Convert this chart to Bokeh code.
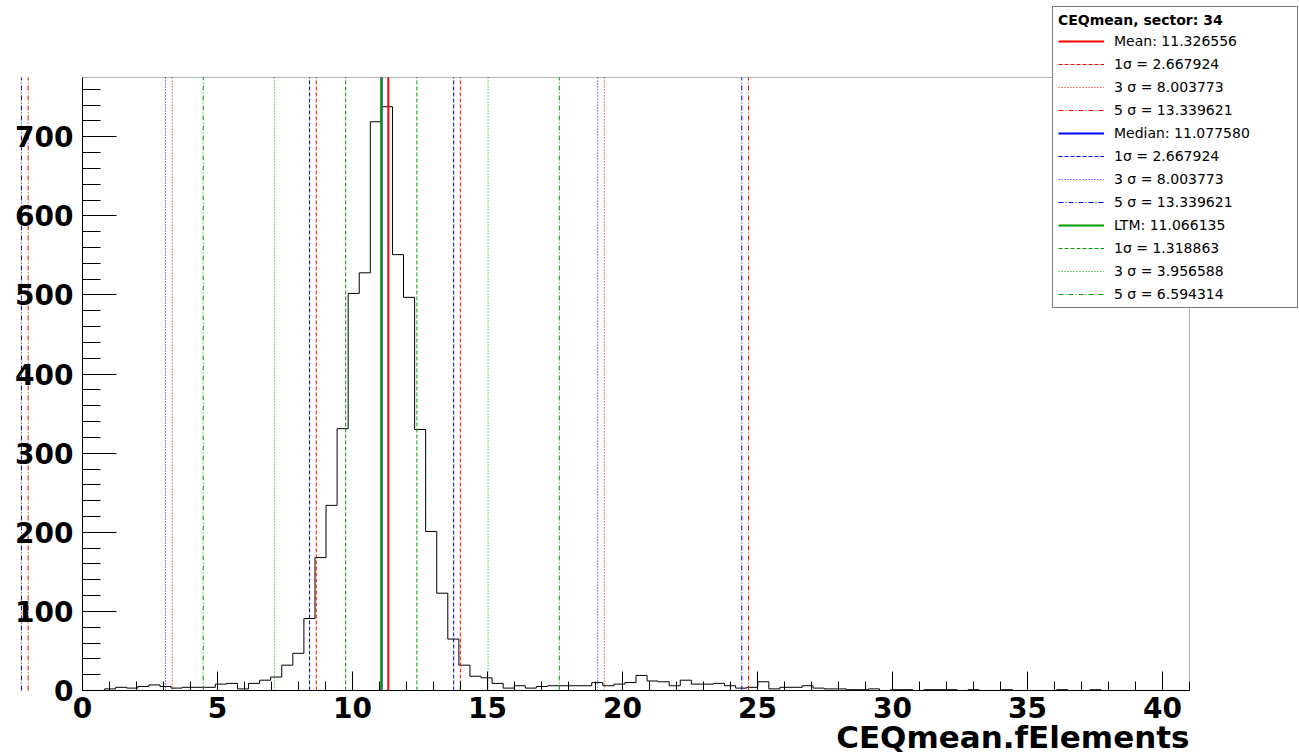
import numpy as np
from bokeh.plotting import figure
from bokeh.models import (Range1d, SingleIntervalTicker, BoxAnnotation, Legend,
                          LegendItem, Label)
from bokeh.embed import file_html
from bokeh.resources import INLINE

# ---------------- data ----------------
NBINS = 100
XMIN, XMAX = 0.0, 41.0
counts = [0, 0, 2, 4, 3, 5, 7, 5, 3, 4,
          4, 4, 8, 9, 2, 9, 13, 17, 32, 47,
          91, 168, 234, 331, 502, 528, 719, 738, 551, 497,
          330, 201, 123, 65, 32, 18, 16, 9, 3, 6,
          3, 5, 6, 6, 6, 6, 10, 6, 8, 10,
          19, 12, 11, 6, 13, 8, 8, 9, 6, 3,
          4, 11, 2, 4, 4, 6, 3, 2, 2, 1,
          1, 2, 0, 1, 1, 0, 1, 1, 1, 0,
          1, 0, 0, 1, 0, 0, 0, 0, 1, 0,
          0, 1, 0, 0, 0, 0, 0, 0, 0, 0]
YMAX = 775

stat_names = ["Mean", "Median", "LTM"]
stat_centers = [11.326556, 11.077580, 11.066135]
sigma1 = [2.667924, 2.667924, 1.318863]
sigma3 = [8.003773, 8.003773, 3.956588]
sigma5 = [13.339621, 13.339621, 6.594314]
stat_colors = ["#ff0000", "#0000ff", "#009900"]

legend_title = "CEQmean, sector: 34"
x_label = "CEQmean.fElements"

FONT = "DejaVu Sans"

# ---------------- figure ----------------
# the frame covers the whole canvas; the ROOT-like frame box is drawn inside it
p = figure(width=1299, height=755, output_backend="svg", toolbar_location=None,
           x_range=Range1d(-3.037, 45.074), y_range=Range1d(-82.2, 872.3),
           min_border_left=0, min_border_right=0, min_border_top=0,
           min_border_bottom=0)
p.title.visible = False
p.grid.visible = False
p.outline_line_color = None
p.background_fill_color = "white"
p.border_fill_color = "white"

# histogram as step outline
edges = np.linspace(XMIN, XMAX, NBINS + 1)
cnt = np.asarray(counts, dtype=float)
sx = np.concatenate([[edges[0]], np.repeat(edges, 2)[1:-1], [edges[-1]]])
sy = np.concatenate([[0.0], np.repeat(cnt, 2), [0.0]])
p.line(sx, sy, line_color="black", line_width=1)

# statistic lines
styles = [("4 2", 1), ("1 2", 1), ("5 2 1 2", 1)]
items = []
for name, c, s1, s3, s5, col in zip(stat_names, stat_centers, sigma1, sigma3,
                                    sigma5, stat_colors):
    r0 = p.segment(x0=[c], y0=[0], x1=[c], y1=[YMAX], line_color=col,
                   line_width=2)
    items.append(LegendItem(label="%s: %.6f" % (name, c), renderers=[r0]))
    for (dash, lw), s, lab in zip(styles, [s1, s3, s5],
                                  ["1\u03c3 = %.6f", "3 \u03c3 = %.6f",
                                   "5 \u03c3 = %.6f"]):
        xs = [c - s, c + s]
        r = p.segment(x0=xs, y0=[0, 0], x1=xs, y1=[YMAX, YMAX],
                      line_color=col, line_width=lw, line_dash=dash)
        items.append(LegendItem(label=lab % s, renderers=[r]))

# frame box
p.add_layout(BoxAnnotation(left=XMIN, right=XMAX, bottom=0, top=YMAX,
                           fill_alpha=0, line_color="black", line_width=1))

# axes
xa = p.xaxis[0]
xa.fixed_location = 0
xa.bounds = (XMIN, XMAX)
xa.ticker = SingleIntervalTicker(interval=5, num_minor_ticks=5)
xa.major_tick_in = 19
xa.major_tick_out = 0
xa.minor_tick_in = 9
xa.minor_tick_out = 0
xa.major_label_text_font = FONT
xa.major_label_text_font_style = "bold"
xa.major_label_text_font_size = "28px"
xa.major_label_text_color = "black"
xa.major_label_standoff = 7
xa.axis_line_color = "black"

ya = p.yaxis[0]
ya.fixed_location = 0
ya.bounds = (0, YMAX)
ya.ticker = SingleIntervalTicker(interval=100, num_minor_ticks=5)
ya.major_tick_in = 34
ya.major_tick_out = 0
ya.minor_tick_in = 18
ya.minor_tick_out = 0
ya.major_label_text_font = FONT
ya.major_label_text_font_style = "bold"
ya.major_label_text_font_size = "28px"
ya.major_label_text_color = "black"
ya.major_label_standoff = 9
ya.axis_line_color = "black"

# x axis title, right aligned at the end of the axis (ROOT style)
p.add_layout(Label(x=XMAX, y=19, x_units="data", y_units="screen",
                   text=x_label, text_align="right",
                   text_baseline="alphabetic", text_font=FONT,
                   text_font_size="31px", text_font_style="bold",
                   text_color="black"))

# legend
legend = Legend(items=items, location=(1052, 447), title=legend_title,
                title_text_font=FONT, title_text_font_size="14px",
                title_text_font_style="bold", title_text_color="black",
                title_standoff=5,
                label_text_font=FONT, label_text_font_size="14px",
                label_text_color="black",
                glyph_width=46, glyph_height=16, label_height=16,
                label_width=178, label_standoff=10, spacing=7, padding=5,
                margin=0, border_line_color="black", border_line_width=1,
                background_fill_color="white", background_fill_alpha=1.0)
p.add_layout(legend, "center")

open("out.html", "w").write(file_html(p, INLINE))
